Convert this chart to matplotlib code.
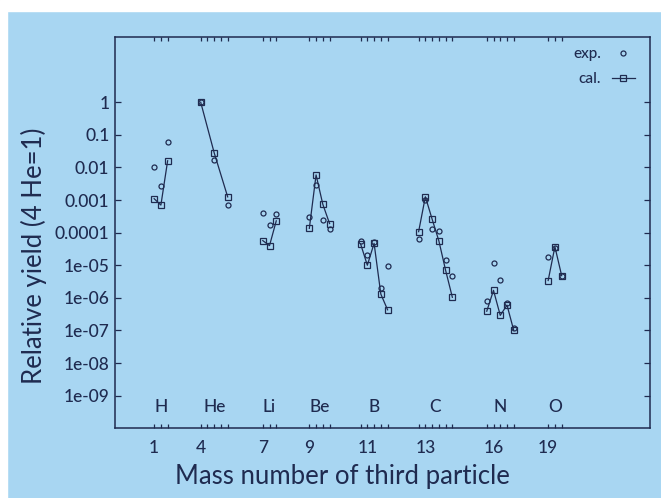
import matplotlib
matplotlib.use("Agg")
import matplotlib.pyplot as plt
from matplotlib.lines import Line2D
from matplotlib.ticker import FixedLocator, FixedFormatter, FuncFormatter, NullLocator

# ---- data -------------------------------------------------------------
elements = ["H", "He", "Li", "Be", "B", "C", "N", "O"]
mass_min = [1, 4, 7, 9, 10, 12, 15, 19]      # first mass number on the axis
mass_max = [3, 8, 9, 12, 14, 17, 19, 21]     # last mass number on the axis
mass_label = [1, 4, 7, 9, 11, 13, 16, 19]    # mass number printed below each group

masses = {
    "H": [1, 2, 3],
    "He": [4, 6, 8],
    "Li": [7, 8, 9],
    "Be": [9, 10, 11, 12],
    "B": [10, 11, 12, 13, 14],
    "C": [12, 13, 14, 15, 16, 17],
    "N": [15, 16, 17, 18, 19],
    "O": [19, 20, 21],
}
yield_exp = {
    "H": [1.0e-2, 2.7e-3, 6.0e-2],
    "He": [1.0, 1.7e-2, 7.0e-4],
    "Li": [4.0e-4, 1.7e-4, 3.7e-4],
    "Be": [3.0e-4, 2.9e-3, 2.5e-4, 1.3e-4],
    "B": [5.6e-5, 2.0e-5, 5.0e-5, 2.0e-6, 9.6e-6],
    "C": [6.2e-5, 1.0e-3, 1.3e-4, 1.1e-4, 1.5e-5, 4.6e-6],
    "N": [7.8e-7, 1.2e-5, 3.6e-6, 7.0e-7, 1.2e-7],
    "O": [1.8e-5, 3.5e-5, 4.8e-6],
}
yield_cal = {
    "H": [1.1e-3, 7.0e-4, 1.6e-2],
    "He": [1.0, 2.8e-2, 1.25e-3],
    "Li": [5.7e-5, 4.0e-5, 2.3e-4],
    "Be": [1.35e-4, 5.9e-3, 7.4e-4, 1.9e-4],
    "B": [4.5e-5, 1.0e-5, 4.7e-5, 1.3e-6, 4.3e-7],
    "C": [1.07e-4, 1.26e-3, 2.6e-4, 5.6e-5, 7.0e-6, 1.04e-6],
    "N": [3.9e-7, 1.7e-6, 2.9e-7, 6.0e-7, 1.0e-7],
    "O": [3.4e-6, 3.7e-5, 4.8e-6],
}
y_ticks = [1e-9, 1e-8, 1e-7, 1e-6, 1e-5, 1e-4, 1e-3, 1e-2, 1e-1, 1.0]

# ---- layout -----------------------------------------------------------
# horizontal offset of each element group (one unit per mass number)
group_shift = [4.8, 8.7, 14.9, 19.8, 26.4, 33.0, 40.1, 45.2]
x_span = (0.0, 79.26)

bg = "#a8d6f2"
ink = "#1f2b50"
font = ["Lato", "DejaVu Sans"]
plt.rcParams["font.family"] = font
plt.rcParams["font.weight"] = "medium"

fig = plt.figure(figsize=(6.61, 4.98), dpi=100, facecolor=bg)
ax = fig.add_axes([0.174, 0.140, 0.809, 0.7857], facecolor=bg)

for el, shift in zip(elements, group_shift):
    xs = [shift + a for a in masses[el]]
    ax.plot(xs, yield_cal[el], "-", color=ink, lw=0.9, marker="s", ms=4.4,
            mfc="none", mec=ink, mew=0.9, zorder=3)
    ax.plot(xs, yield_exp[el], ls="none", marker="o", ms=3.6,
            mfc="none", mec=ink, mew=0.9, zorder=3)

ax.set_yscale("log")
ax.set_ylim(1e-10, 1e2)
ax.set_xlim(*x_span)

ax.yaxis.set_major_locator(FixedLocator(y_ticks))
ax.yaxis.set_major_formatter(FuncFormatter(lambda v, _: "%g" % v))
ax.yaxis.set_minor_locator(NullLocator())

major_x = [s + m for s, m in zip(group_shift, mass_label)]
minor_x = [s + a for s, lo, hi in zip(group_shift, mass_min, mass_max)
           for a in range(lo, hi + 1)]
ax.xaxis.set_major_locator(FixedLocator(major_x))
ax.xaxis.set_major_formatter(FixedFormatter([str(m) for m in mass_label]))
ax.xaxis.set_minor_locator(FixedLocator(minor_x))

ax.tick_params(axis="both", which="both", direction="in", colors=ink,
               top=True, right=True, width=0.9)
ax.tick_params(axis="x", which="both", length=3.2, pad=8.5, labelsize=12.5)
ax.tick_params(axis="y", which="major", length=4, pad=4, labelsize=12.5)
ax.tick_params(axis="y", labelright=False)

for sp in ax.spines.values():
    sp.set_color(ink)
    sp.set_linewidth(1.1)

# element symbols above each group
for el, shift, lo, hi in zip(elements, group_shift, mass_min, mass_max):
    ax.text(shift + (lo + hi) / 2, 0.055, el, transform=ax.get_xaxis_transform(),
            ha="center", va="center", fontsize=12.5, color=ink)

ax.set_xlabel("Mass number of third particle", fontsize=18.5, color=ink)
ax.set_ylabel("Relative yield (4 He=1)", fontsize=18.5, color=ink)
ax.xaxis.set_label_coords(0.426, -0.092)
ax.yaxis.set_label_coords(-0.128, 0.4416)

handles = [
    Line2D([], [], ls="none", marker="o", ms=3.6, mfc="none", mec=ink, mew=0.9),
    Line2D([], [], ls="-", lw=0.9, color=ink, marker="s", ms=4.4, mfc="none",
           mec=ink, mew=0.9),
]
leg = ax.legend(handles, ["exp.", "cal."], loc="upper right", frameon=False,
                bbox_to_anchor=(0.9836, 0.9904), borderaxespad=0.0,
                markerfirst=False, numpoints=1, handlelength=1.5,
                handletextpad=0.7, fontsize=11, labelspacing=0.72)
for t in leg.get_texts():
    t.set_color(ink)

# white margin along the top and left edges of the sheet
fig.patches.append(plt.Rectangle((0, 1 - 11 / 498), 1, 11 / 498,
                                 transform=fig.transFigure, color="white", zorder=-1))
fig.patches.append(plt.Rectangle((0, 0), 7 / 661, 1,
                                 transform=fig.transFigure, color="white", zorder=-1))

fig.savefig("out.png", dpi=100, facecolor=bg)
